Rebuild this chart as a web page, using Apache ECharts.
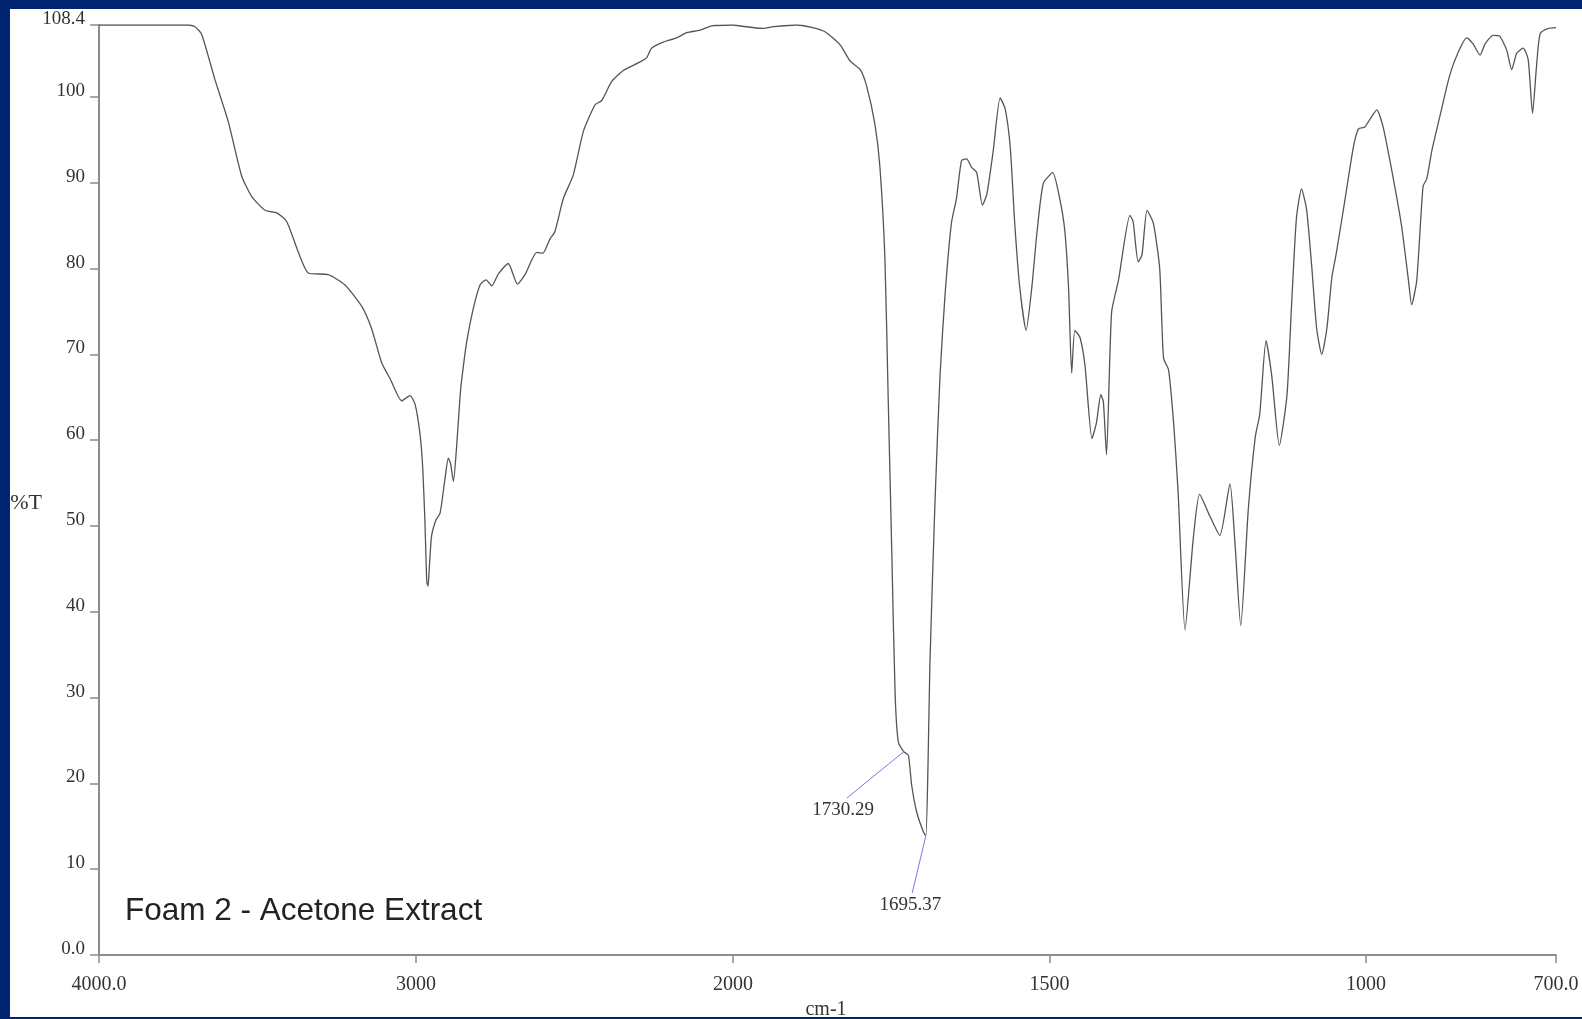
<!DOCTYPE html>
<html>
<head>
<meta charset="utf-8">
<script src="https://cdn.jsdelivr.net/npm/echarts@6/dist/echarts.min.js"></script>
<style>
html,body{margin:0;padding:0;background:#fff;}
#chart{width:1582px;height:1019px;}
</style>
</head>
<body>
<div id="chart"></div>
<script>
// Spectrum, high-wavenumber part (4000 -> 2000 cm-1): [wavenumber, %T]
const spectrumHigh = [
  [4000,108.4],[3850,108.4],[3720,108.4],[3697,108.2],[3676,107.3],[3634,102.0],[3592,97.1],
  [3550,90.8],[3518,88.4],[3476,86.8],[3439,86.5],[3408,85.5],[3371,81.9],[3340,79.5],
  [3277,79.3],[3224,78.1],[3171,75.6],[3140,73.0],[3108,69.0],[3082,67.2],[3045,64.6],
  [3019,65.2],[3003,64.2],[2987,60.6],[2979,56.9],[2972,50.7],[2966,43.5],[2962,43.0],
  [2959,44.5],[2951,48.8],[2937,50.7],[2924,51.5],[2909,55.4],[2898,57.9],[2891,57.3],
  [2882,55.2],[2872,59.2],[2861,65.1],[2856,67.0],[2840,71.5],[2819,75.4],[2798,78.1],
  [2779,78.7],[2761,78.0],[2740,79.4],[2709,80.6],[2680,78.2],[2656,79.3],[2619,81.9],
  [2600,81.8],[2577,83.5],[2562,84.3],[2535,88.2],[2504,90.9],[2472,96.0],[2435,99.1],
  [2414,99.6],[2383,101.8],[2346,103.1],[2293,104.1],[2272,104.6],[2257,105.7],[2220,106.4],
  [2178,106.9],[2146,107.5],[2104,107.8],[2067,108.3],[2000,108.4]
];
// Spectrum, low-wavenumber part (2000 -> 700 cm-1), drawn at double scale
const spectrumLow = [
  [2000,108.4],[1952,108.0],[1936,108.2],[1899,108.4],[1857,107.7],[1831,106.1],[1815,104.2],
  [1799,103.2],[1789,101.3],[1776,96.9],[1768,91.9],[1760,81.1],[1755,65.3],[1749,46.4],
  [1744,30.6],[1739,24.9],[1730.29,23.7],[1723,23.3],[1718,19.9],[1710,16.7],[1699,14.3],
  [1695.37,13.9],[1692,22.0],[1689,33.8],[1681,52.7],[1673,67.5],[1665,77.0],[1655,85.3],
  [1647,88.2],[1639,92.6],[1631,92.8],[1623,91.8],[1615,91.2],[1606,87.4],[1599,88.7],
  [1589,93.7],[1578,99.9],[1570,98.6],[1562,94.1],[1555,85.3],[1547,77.8],[1537,72.8],
  [1528,77.8],[1520,84.1],[1510,89.9],[1495,91.2],[1484,88.2],[1476,84.5],[1470,77.8],
  [1465,67.8],[1460,72.8],[1452,72.0],[1444,68.7],[1433,60.2],[1426,62.0],[1419,65.3],
  [1415,64.5],[1410,58.3],[1402,74.9],[1391,78.7],[1373,86.2],[1368,85.5],[1360,80.8],
  [1354,81.6],[1346,86.8],[1336,85.3],[1326,80.0],[1320,69.6],[1312,68.2],[1304,62.0],
  [1297,54.1],[1286,37.9],[1273,48.5],[1263,53.7],[1247,51.2],[1231,48.9],[1215,54.9],
  [1207,47.9],[1198,38.4],[1186,52.0],[1175,60.4],[1168,63.0],[1158,71.6],[1149,67.5],
  [1137,59.4],[1125,65.2],[1118,75.3],[1110,85.9],[1102,89.3],[1094,86.9],[1086,80.4],
  [1078,73.0],[1070,70.0],[1062,73.0],[1054,79.0],[1047,81.8],[1033,88.2],[1020,94.2],
  [1012,96.3],[1002,96.5],[994,97.4],[983,98.5],[973,96.5],[957,90.5],[944,85.0],
  [933,78.6],[928,75.8],[920,78.6],[910,89.6],[904,90.5],[896,93.8],[883,97.9],
  [868,102.5],[854,105.3],[841,106.9],[831,106.2],[820,104.9],[812,106.2],[799,107.2],
  [789,107.1],[778,105.5],[770,103.2],[762,105.1],[752,105.7],[744,104.4],[737,98.1],
  [731,103.4],[725,107.4],[712,108.0],[700,108.1]
];
// Tick labels
const yTicks = [0,10,20,30,40,50,60,70,80,90,100,108.4];
const xTicksHigh = [4000,3000];
const xTickMarksHigh = [4000,3000,2000];
const xTicksLow = [2000,1500,1000,700];
// Peak annotations (data units): peak point, leader-line end, label centre
const peaks = [
  {name:'1730.29', at:[1730.29,23.7], lead:[1820,18.3], label:[1826,16.9]},
  {name:'1695.37', at:[1695.37,13.9], lead:[1717,7.2], label:[1720,5.8]}
];
const titleText = 'Foam 2 - Acetone Extract';
const yName = '%T';
const xName = 'cm-1';

const serif = '"Liberation Serif", "DejaVu Serif", serif';
const axisGray = '#8c8c8c';
const textGray = '#333';

function fmtX(v){ return (v===4000||v===700) ? v.toFixed(1) : String(v); }
function fmtY(v){ return v===0 ? '0.0' : (v===108.4 ? '108.4' : String(v)); }

const xCommon = {
  type:'value', inverse:true,
  axisLine:{show:true, onZero:false, lineStyle:{color:axisGray, width:2}},
  axisTick:{show:true, inside:false, length:8, lineStyle:{color:axisGray, width:1.5}},
  splitLine:{show:false},
  axisLabel:{fontFamily:serif, fontSize:20, color:textGray, margin:20, formatter:fmtX, showMinLabel:true, showMaxLabel:true}
};

const chart = echarts.init(document.getElementById('chart'), null, {renderer:'canvas'});
chart.setOption({
  backgroundColor:'#ffffff',
  animation:false,
  grid:[
    {left:99, top:25, width:634, height:930},
    {left:733, top:25, width:823, height:930}
  ],
  xAxis:[
    Object.assign({}, xCommon, {gridIndex:0, min:2000, max:4000,
      axisTick:Object.assign({}, xCommon.axisTick, {customValues:xTickMarksHigh}),
      axisLabel:Object.assign({}, xCommon.axisLabel, {customValues:xTicksHigh})}),
    Object.assign({}, xCommon, {gridIndex:1, min:700, max:2000,
      axisTick:Object.assign({}, xCommon.axisTick, {customValues:xTicksLow}),
      axisLabel:Object.assign({}, xCommon.axisLabel, {customValues:xTicksLow})})
  ],
  yAxis:[
    {type:'value', gridIndex:0, min:0, max:108.4,
     axisLine:{show:true, lineStyle:{color:axisGray, width:2}},
     axisTick:{show:true, inside:false, length:9, customValues:yTicks, lineStyle:{color:axisGray, width:1.5}},
     splitLine:{show:false},
     axisLabel:{customValues:yTicks, formatter:fmtY, fontFamily:serif, fontSize:19, color:textGray, margin:14, verticalAlign:'bottom', lineHeight:12}
    },
    {type:'value', gridIndex:1, min:0, max:108.4, show:false, splitLine:{show:false}}
  ],
  series:[
    {type:'line', xAxisIndex:0, yAxisIndex:0, data:spectrumHigh, showSymbol:false, smooth:0.2,
     lineStyle:{color:'#555', width:1.3}, itemStyle:{color:'#555'}},
    {type:'line', xAxisIndex:1, yAxisIndex:1, data:spectrumLow, showSymbol:false, smooth:0.2,
     lineStyle:{color:'#555', width:1.3}, itemStyle:{color:'#555'},
     markLine:{silent:true, symbol:['none','none'], label:{show:false},
       lineStyle:{color:'#7b7be0', width:1, type:'solid'},
       data:peaks.map(p=>[{coord:p.at},{coord:p.lead}])},
     markPoint:{silent:true, symbol:'circle', symbolSize:0,
       label:{show:true, position:'inside', fontFamily:serif, fontSize:19, color:textGray,
              formatter:(d)=>d.name},
       data:peaks.map(p=>({name:p.name, coord:p.label}))}
    }
  ],
  graphic:[
    {type:'text', x:125, y:911, z:50, style:{text:titleText, font:'31.5px "Liberation Sans", Arial, sans-serif', fill:'#222', verticalAlign:'middle'}},
    {type:'text', x:42, y:503, z:50, style:{text:yName, font:'22px '+serif, fill:textGray, align:'right', verticalAlign:'middle'}},
    {type:'text', x:826, y:1010, z:50, style:{text:xName, font:'20px '+serif, fill:textGray, align:'center', verticalAlign:'middle'}},
    {type:'rect', z:100, shape:{x:0,y:0,width:1582,height:9}, style:{fill:'#022572'}},
    {type:'rect', z:100, shape:{x:0,y:0,width:10,height:1019}, style:{fill:'#022572'}},
    {type:'rect', z:100, shape:{x:0,y:1017,width:1582,height:2}, style:{fill:'#022572'}}
  ]
});
</script>
</body>
</html>
